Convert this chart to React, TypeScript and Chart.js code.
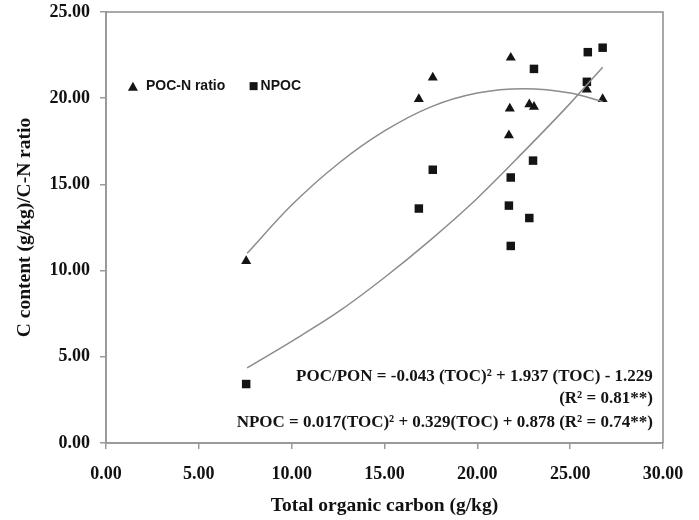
import React, { useEffect, useRef } from "react";
import { Chart, registerables } from "chart.js";

Chart.register(...registerables);

// Observed points
const pocX = [7.55, 16.85, 17.6, 21.8, 21.75, 21.7, 22.8, 23.05, 25.9, 26.75];
const pocY = [10.55, 19.95, 21.2, 22.35, 19.4, 17.85, 19.65, 19.5, 20.5, 19.95];
const npocX = [7.55, 16.85, 17.6, 21.7, 21.8, 21.8, 22.8, 23.0, 23.05, 25.9, 25.95, 26.75];
const npocY = [3.42, 13.6, 15.85, 13.77, 15.4, 11.43, 13.05, 16.38, 21.7, 20.95, 22.67, 22.93];

// Fitted curves
const pocFitX = [7.6, 10, 12.5, 15, 17.5, 20, 22.5, 25, 26.75];
const pocFitY = [11.0, 13.8, 16.2, 18.1, 19.5, 20.3, 20.55, 20.3, 19.8];
const npocFitX = [7.6, 10, 12.5, 15, 17.5, 20, 22.5, 25, 26.75];
const npocFitY = [4.36, 5.9, 7.6, 9.6, 11.8, 14.2, 16.9, 19.7, 21.8];

const xTicks = [0, 5, 10, 15, 20, 25, 30];
const yTicks = [0, 5, 10, 15, 20, 25];

const legendLabels = ["POC-N ratio", "NPOC"];
const eqLines = [
  "POC/PON = -0.043 (TOC)\u00B2 + 1.937 (TOC) - 1.229",
  "(R\u00B2 = 0.81**)",
  "NPOC = 0.017(TOC)\u00B2 + 0.329(TOC) + 0.878 (R\u00B2 = 0.74**)",
];

const xTitle = "Total organic carbon (g/kg)";
const yTitle = "C content (g/kg)/C-N ratio";

const zip = (xs: number[], ys: number[]) => xs.map((x, i) => ({ x, y: ys[i] }));

const AXIS = "#9a9a9a";
const FIT = "#8c8c8c";
const MARK = "#141414";
const SERIF = "'Liberation Serif', 'DejaVu Serif', serif";
const SANS = "'Liberation Sans', Arial, sans-serif";

const annotations = {
  id: "annotations",
  afterDatasetsDraw(chart: any) {
    const { ctx, chartArea, scales } = chart;
    ctx.save();
    // box top & right
    ctx.strokeStyle = FIT;
    ctx.lineWidth = 1.5;
    ctx.beginPath();
    ctx.moveTo(chartArea.left, chartArea.top);
    ctx.lineTo(chartArea.right, chartArea.top);
    ctx.lineTo(chartArea.right, chartArea.bottom);
    ctx.stroke();

    // legend
    const ly = scales.y.getPixelForValue(20.7);
    const lx = scales.x.getPixelForValue(1.45);
    ctx.fillStyle = MARK;
    ctx.beginPath();
    ctx.moveTo(lx - 5, ly + 4.5);
    ctx.lineTo(lx + 5, ly + 4.5);
    ctx.lineTo(lx, ly - 4.5);
    ctx.closePath();
    ctx.fill();
    ctx.font = `bold 14px ${SANS}`;
    ctx.textBaseline = "middle";
    ctx.textAlign = "left";
    ctx.fillText(legendLabels[0], lx + 13, ly);
    const sx = scales.x.getPixelForValue(7.95);
    ctx.fillRect(sx - 4, ly - 4, 8, 8);
    ctx.fillText(legendLabels[1], sx + 7, ly);

    // equations
    ctx.font = `bold 17px ${SERIF}`;
    ctx.textAlign = "right";
    const rx = scales.x.getPixelForValue(29.45);
    ctx.fillText(eqLines[0], rx, scales.y.getPixelForValue(3.85));
    ctx.fillText(eqLines[1], rx, scales.y.getPixelForValue(2.57));
    ctx.fillText(eqLines[2], rx, scales.y.getPixelForValue(1.17));
    ctx.restore();
  },
};

export default function App() {
  const ref = useRef<HTMLCanvasElement>(null);
  useEffect(() => {
    if (!ref.current) return;
    const tickFont = { family: SERIF, size: 18, weight: "bold" as const };
    const titleFont = { family: SERIF, size: 19.5, weight: "bold" as const };
    const chart = new Chart(ref.current, {
      type: "scatter",
      data: {
        datasets: [
          {
            label: "POC/PON fit",
            data: zip(pocFitX, pocFitY),
            showLine: true,
            borderColor: FIT,
            borderWidth: 1.5,
            pointRadius: 0,
            tension: 0.4,
            cubicInterpolationMode: "monotone",
          },
          {
            label: "NPOC fit",
            data: zip(npocFitX, npocFitY),
            showLine: true,
            borderColor: FIT,
            borderWidth: 1.5,
            pointRadius: 0,
            tension: 0.4,
            cubicInterpolationMode: "monotone",
          },
          {
            label: legendLabels[0],
            data: zip(pocX, pocY),
            pointStyle: "triangle",
            pointRadius: 5.8,
            backgroundColor: MARK,
            borderColor: MARK,
            borderWidth: 0,
          },
          {
            label: legendLabels[1],
            data: zip(npocX, npocY),
            pointStyle: "rect",
            pointRadius: 6,
            backgroundColor: MARK,
            borderColor: MARK,
            borderWidth: 0,
          },
        ],
      },
      options: {
        responsive: false,
        animation: false,
        layout: { padding: { top: 12, right: 36, left: 0, bottom: 0 } },
        plugins: { legend: { display: false }, tooltip: { enabled: false } },
        scales: {
          x: {
            type: "linear",
            min: 0,
            max: 30,
            afterBuildTicks: (s: any) => {
              s.ticks = xTicks.map((v) => ({ value: v }));
            },
            afterFit: (s: any) => {
              s.height = 77;
            },
            ticks: {
              callback: (v: any) => Number(v).toFixed(2),
              font: tickFont,
              color: "#111",
              padding: 15,
              maxRotation: 0,
            },
            grid: { drawOnChartArea: false, drawTicks: true, tickLength: 6, color: AXIS, lineWidth: 1.5 },
            border: { color: AXIS, width: 2 },
            title: { display: true, text: xTitle, font: titleFont, color: "#111", padding: { top: 0, bottom: 2 } },
          },
          y: {
            type: "linear",
            min: 0,
            max: 25,
            afterBuildTicks: (s: any) => {
              s.ticks = yTicks.map((v) => ({ value: v }));
            },
            afterFit: (s: any) => {
              s.width = 106;
              s.paddingTop = 0;
              s.paddingBottom = 0;
            },
            ticks: {
              callback: (v: any) => Number(v).toFixed(2),
              font: tickFont,
              color: "#111",
              padding: 10,
            },
            grid: { drawOnChartArea: false, drawTicks: true, tickLength: 6, color: AXIS, lineWidth: 1.5 },
            border: { color: AXIS, width: 2 },
            title: { display: true, text: yTitle, font: titleFont, color: "#111", padding: { top: 13, bottom: 0 } },
          },
        },
      },
      plugins: [annotations],
    });
    return () => chart.destroy();
  }, []);
  return (
    <div style={{ position: "absolute", left: 0, top: 0, width: 699, height: 520, background: "#fff" }}>
      <canvas ref={ref} width={699} height={520} />
    </div>
  );
}
